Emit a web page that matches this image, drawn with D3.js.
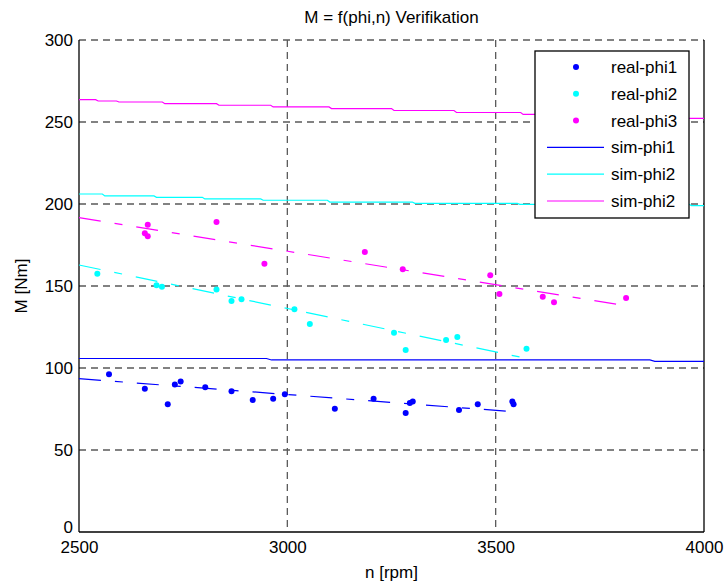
<!DOCTYPE html>
<html>
<head>
<meta charset="utf-8">
<script src="https://cdn.jsdelivr.net/npm/d3@7"></script>
<style>
  body { margin: 0; background: #fff; }
  text { font-family: "Liberation Sans", Arial, Helvetica, sans-serif; fill: #000; }
</style>
</head>
<body>
<script>
// measured points (rpm, Nm)
const realPhi1 = [
    [2572, 96.2], [2658, 87.4], [2713, 77.9], [2730, 90.0], [2744, 91.7],
    [2803, 88.2], [2866, 85.8], [2917, 80.5], [2966, 81.3], [2994, 84.0],
    [3114, 75.2], [3207, 81.3], [3284, 72.6], [3294, 78.7], [3301, 79.5],
    [3412, 74.4], [3457, 77.9], [3540, 79.5], [3543, 77.9]
];
const realPhi2 = [
    [2544, 157.5], [2686, 150.4], [2699, 149.6], [2830, 147.8], [2866, 140.9],
    [2890, 141.9], [3017, 135.8], [3054, 126.8], [3256, 121.5], [3284, 111.0],
    [3381, 117.1], [3408, 118.9], [3574, 111.8]
];
const realPhi3 = [
    [2665, 187.4], [2658, 182.1], [2665, 180.3], [2830, 189.0], [2945, 163.6],
    [3186, 170.7], [3277, 160.2], [3487, 156.5], [3509, 145.1], [3613, 143.5],
    [3640, 140.1], [3813, 142.7]
];

// fitted trend lines (dashed)
const fitPhi1 = [[2500, 93.5], [3545, 73.3]];
const fitPhi2 = [[2500, 162.8], [3562, 106.5]];
const fitPhi3 = [[2500, 191.7], [3812, 138.0]];

// simulation curves (stepped)
const simPhi1 = [
    [2500, 105.8], [2950, 105.8], [2962, 104.9], [3870, 104.9], [3882, 104.0], [4000, 104.0]
];
const simPhi2 = [
    [2500, 206.1], [2556, 206.1], [2562, 204.9], [2680, 204.9], [2686, 204.1],
    [2796, 204.1], [2802, 203.1], [2936, 203.1], [2942, 202.3], [3096, 202.3],
    [3102, 201.2], [3300, 201.2], [3306, 200.4], [3552, 200.4], [3558, 199.8],
    [3964, 199.8], [3970, 199.0], [4000, 199.0]
];
const simPhi3 = [
    [2500, 263.6], [2540, 263.6], [2546, 262.8], [2590, 262.8], [2596, 262.2],
    [2700, 262.2], [2706, 261.2], [2830, 261.2], [2836, 260.2], [2960, 260.2],
    [2966, 259.2], [3100, 259.2], [3106, 258.2], [3250, 258.2], [3256, 257.0],
    [3400, 257.0], [3406, 255.8], [3560, 255.8], [3566, 254.6], [3720, 254.6],
    [3726, 253.4], [3880, 253.4], [3886, 252.2], [4000, 252.2]
];

const xTicks = [2500, 3000, 3500, 4000];
const yTicks = [0, 50, 100, 150, 200, 250, 300];

const legendItems = [
    { label: "real-phi1", color: "#0000ff", type: "dot" },
    { label: "real-phi2", color: "#00ffff", type: "dot" },
    { label: "real-phi3", color: "#ff00ff", type: "dot" },
    { label: "sim-phi1", color: "#0000ff", type: "line" },
    { label: "sim-phi2", color: "#00ffff", type: "line" },
    { label: "sim-phi2", color: "#ff00ff", type: "line" }
];

const W = 725, H = 584;
const plotL = 79, plotR = 704, plotT = 40, plotB = 532;

const svg = d3.select("body").append("svg")
    .attr("width", W)
    .attr("height", H);

const x = d3.scaleLinear().domain([2500, 4000]).range([plotL, plotR]);
const y = d3.scaleLinear().domain([0, 300]).range([plotB, plotT]);

// grid
const grid = svg.append("g");
grid.selectAll("line.gx")
    .data(xTicks.slice(1, -1))
    .enter().append("line")
    .attr("x1", d => x(d)).attr("x2", d => x(d))
    .attr("y1", plotT).attr("y2", plotB);
grid.selectAll("line.gy")
    .data(yTicks.slice(1))
    .enter().append("line")
    .attr("x1", plotL).attr("x2", plotR)
    .attr("y1", d => y(d)).attr("y2", d => y(d));
grid.selectAll("line")
    .style("stroke", "#5a5a5a")
    .style("stroke-width", 1.3)
    .style("stroke-dasharray", "7,5");

// axes box
svg.append("line").attr("x1", plotL).attr("x2", plotL).attr("y1", plotT).attr("y2", plotB)
    .style("stroke", "#000").style("stroke-width", 1.3);
svg.append("line").attr("x1", plotL).attr("x2", plotR).attr("y1", plotB).attr("y2", plotB)
    .style("stroke", "#000").style("stroke-width", 1.3);
svg.append("line").attr("x1", plotR).attr("x2", plotR).attr("y1", plotT).attr("y2", plotB)
    .style("stroke", "#000").style("stroke-width", 1.3);

// tick labels
const xAxis = d3.axisBottom(x).tickValues(xTicks).tickSize(0).tickPadding(9).tickFormat(d3.format("d"));
const yAxis = d3.axisLeft(y).tickValues(yTicks).tickSize(0).tickPadding(6).tickFormat(d3.format("d"));

const gx = svg.append("g").attr("transform", `translate(0,${plotB})`).call(xAxis);
const gy = svg.append("g").attr("transform", `translate(${plotL},0)`).call(yAxis);
[gx, gy].forEach(g => {
    g.select(".domain").remove();
    g.selectAll("text")
        .style("font-family", '"Liberation Sans", Arial, sans-serif')
        .style("font-size", "17px")
        .style("fill", "#000");
});
// the "0" label sits slightly above the corner, as in the reference
gy.selectAll(".tick text").filter(d => d === 0).attr("dy", "0.05em");

const line = d3.line().x(d => x(d[0])).y(d => y(d[1]));

// simulation lines
[[simPhi1, "#0000ff"], [simPhi2, "#00ffff"], [simPhi3, "#ff00ff"]].forEach(([data, c]) => {
    svg.append("path")
        .datum(data)
        .attr("d", line)
        .style("fill", "none")
        .style("stroke", c)
        .style("stroke-width", 1.2);
});

// fit lines
[[fitPhi1, "#0000ff"], [fitPhi2, "#00ffff"], [fitPhi3, "#ff00ff"]].forEach(([data, c]) => {
    svg.append("path")
        .datum(data)
        .attr("d", line)
        .style("fill", "none")
        .style("stroke", c)
        .style("stroke-width", 1.2)
        .style("stroke-dasharray", "22,14,8,14");
});

// measured dots
[[realPhi1, "#0000ff"], [realPhi2, "#00ffff"], [realPhi3, "#ff00ff"]].forEach(([data, c]) => {
    svg.append("g").selectAll("circle")
        .data(data)
        .enter().append("circle")
        .attr("cx", d => x(d[0]))
        .attr("cy", d => y(d[1]))
        .attr("r", 3)
        .style("fill", c);
});

// legend
const lg = svg.append("g");
lg.append("rect")
    .attr("x", 535).attr("y", 51)
    .attr("width", 154).attr("height", 167)
    .style("fill", "#fff")
    .style("stroke", "#000")
    .style("stroke-width", 1.3);

const ly = d3.scalePoint().domain(d3.range(legendItems.length)).range([67, 201]);
legendItems.forEach((it, i) => {
    const yy = ly(i);
    if (it.type === "dot") {
        lg.append("circle").attr("cx", 576).attr("cy", yy).attr("r", 3).style("fill", it.color);
    } else {
        lg.append("line").attr("x1", 547).attr("x2", 604).attr("y1", yy).attr("y2", yy)
            .style("stroke", it.color).style("stroke-width", 1.2);
    }
    lg.append("text")
        .attr("x", 611).attr("y", yy + 6)
        .style("font-size", "17px")
        .text(it.label);
});

// title and axis labels
svg.append("text")
    .attr("x", x(3250)).attr("y", 23)
    .attr("text-anchor", "middle")
    .style("font-size", "17px")
    .text("M = f(phi,n) Verifikation");

svg.append("text")
    .attr("x", x(3250)).attr("y", 578)
    .attr("text-anchor", "middle")
    .style("font-size", "17px")
    .text("n [rpm]");

svg.append("text")
    .attr("transform", `translate(27,${y(150)}) rotate(-90)`)
    .attr("text-anchor", "middle")
    .style("font-size", "17px")
    .text("M [Nm]");
</script>
</body>
</html>
